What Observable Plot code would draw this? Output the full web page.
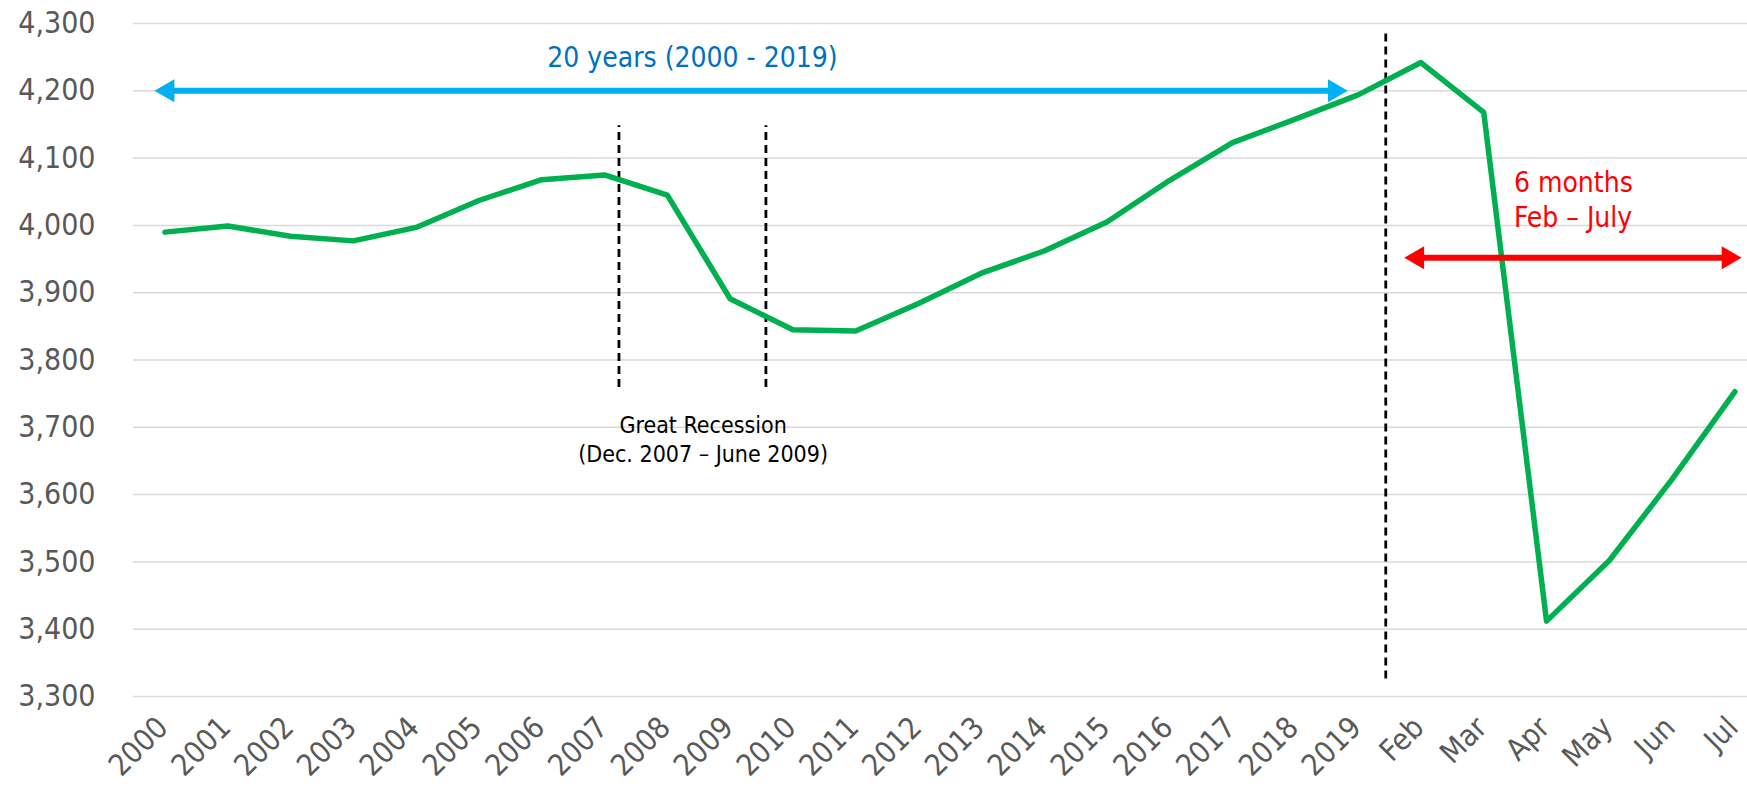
<!DOCTYPE html>
<html><head><meta charset="utf-8">
<script src="https://cdn.jsdelivr.net/npm/d3@7"></script>
<script src="https://cdn.jsdelivr.net/npm/@observablehq/plot@0.6"></script>
<style>
body{margin:0;background:#fff;}
#chart svg{display:block;}
</style>
</head><body><div id="chart"></div>
<script>
const categories = ["2000","2001","2002","2003","2004","2005","2006","2007","2008","2009","2010","2011","2012","2013","2014","2015","2016","2017","2018","2019","Feb","Mar","Apr","May","Jun","Jul"];
const values = [3990,3999,3984,3977,3997,4037,4068,4075,4045,3891,3845,3843,3884,3929,3962,4005,4067,4123,4158,4194,4242,4168,3412,3502,3623,3753];
const yTicks = [3300,3400,3500,3600,3700,3800,3900,4000,4100,4200,4300];

// annotation positions (category index units / value units)
const recessionLines = [{x:7.23, y1:3759, y2:4148},{x:9.57, y1:3759, y2:4148}];
const covidLine = [{x:19.44, y1:3326, y2:4287}];
const blueArrow = {x1:-0.06, x2:18.73, y:4200};
const redArrow = {x1:19.84, x2:25.0, y:3952};
const blueLabel = [{x:8.4, y:4235, text:"20 years (2000 - 2019)"}];
const recessionLabel = [{x:8.57, y:3692, text:"Great Recession"},{x:8.57, y:3649, text:"(Dec. 2007 – June 2009)"}];
const redLabel = [{x:21.48, y:4049, text:"6 months"},{x:21.48, y:3998, text:"Feb – July"}];

const data = categories.map((c,i)=>({i, c, v: values[i]}));
const headOff = 0.17;
const font = "'DejaVu Sans Condensed', 'DejaVu Sans', sans-serif";

const chart = Plot.plot({
  width: 1747,
  height: 788,
  marginLeft: 133,
  marginRight: 0,
  marginTop: 23,
  marginBottom: 92,
  style: {fontFamily: font, background: "#fff"},
  x: {type: "linear", domain: [-0.5, 25.2], axis: null},
  y: {domain: [3300, 4300], axis: null},
  marks: [
    Plot.ruleY(yTicks, {stroke: "#d9d9d9", strokeWidth: 1.5}),
    Plot.axisY(yTicks, {tickSize: 0, tickPadding: 38, tickFormat: d3.format(","), fontSize: 30, fill: "#595959"}),
    Plot.axisX(d3.range(categories.length), {tickSize: 0, tickPadding: 26, dx: -2, tickRotate: -45, tickFormat: i => categories[i], fontSize: 30, fill: "#595959"}),
    Plot.ruleX(recessionLines, {x: "x", y1: "y1", y2: "y2", stroke: "#000", strokeWidth: 2.8, strokeDasharray: "8,5"}),
    Plot.ruleX(covidLine, {x: "x", y1: "y1", y2: "y2", stroke: "#000", strokeWidth: 2.8, strokeDasharray: "8,5"}),
    Plot.line(data, {x: "i", y: "v", stroke: "#00b050", strokeWidth: 5.5, strokeLinejoin: "round", strokeLinecap: "round"}),
    Plot.ruleY([blueArrow], {x1: d => d.x1 + headOff, x2: d => d.x2 - headOff, y: "y", stroke: "#00b0f0", strokeWidth: 6}),
    Plot.dot([{x: blueArrow.x1 + headOff*0.62, y: blueArrow.y, r: -90},{x: blueArrow.x2 - headOff*0.62, y: blueArrow.y, r: 90}], {x: "x", y: "y", rotate: "r", symbol: "triangle", r: 8.5, fill: "#00b0f0", stroke: "none"}),
    Plot.ruleY([redArrow], {x1: d => d.x1 + headOff, x2: d => d.x2 - headOff, y: "y", stroke: "#ff0000", strokeWidth: 6}),
    Plot.dot([{x: redArrow.x1 + headOff*0.62, y: redArrow.y, r: -90},{x: redArrow.x2 - headOff*0.62, y: redArrow.y, r: 90}], {x: "x", y: "y", rotate: "r", symbol: "triangle", r: 8.5, fill: "#ff0000", stroke: "none"}),
    Plot.text(blueLabel, {x: "x", y: "y", text: "text", fill: "#0070c0", fontSize: 28, lineAnchor: "bottom", textAnchor: "middle"}),
    Plot.text(recessionLabel, {x: "x", y: "y", text: "text", fill: "#000", fontSize: 23, lineAnchor: "bottom", textAnchor: "middle"}),
    Plot.text(redLabel, {x: "x", y: "y", text: "text", fill: "#ff0000", fontSize: 28, lineAnchor: "bottom", textAnchor: "start"})
  ]
});
document.getElementById("chart").appendChild(chart);
</script>
</body></html>
